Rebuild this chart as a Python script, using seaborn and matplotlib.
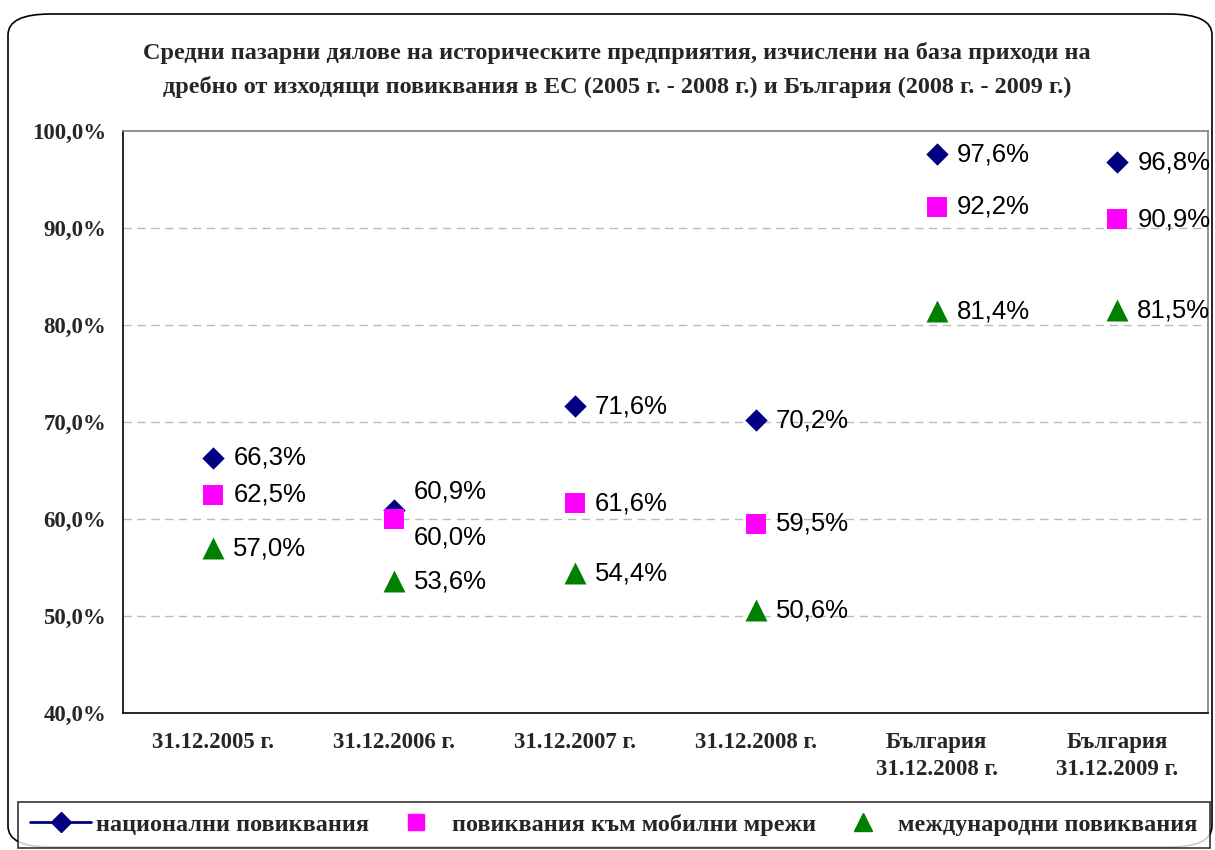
import pandas as pd
import numpy as np
import matplotlib
matplotlib.use('Agg')
import matplotlib.pyplot as plt
import seaborn as sns
from matplotlib.lines import Line2D
from matplotlib.patches import FancyBboxPatch

categories = ['31.12.2005 г.', '31.12.2006 г.', '31.12.2007 г.', '31.12.2008 г.',
              'България\n31.12.2008 г.', 'България\n31.12.2009 г.']
national = [66.3, 60.9, 71.6, 70.2, 97.6, 96.8]
mobile = [62.5, 60.0, 61.6, 59.5, 92.2, 90.9]
international = [57.0, 53.6, 54.4, 50.6, 81.4, 81.5]
series_names = ['национални повиквания', 'повиквания към мобилни мрежи', 'международни повиквания']

title = ('Средни пазарни дялове на историческите предприятия, изчислени на база приходи на\n'
         'дребно от изходящи повиквания в ЕС (2005 г. - 2008 г.) и България (2008 г. - 2009 г.)')

df = pd.DataFrame({
    'cat': categories * 3,
    'value': national + mobile + international,
    'series': [series_names[0]] * 6 + [series_names[1]] * 6 + [series_names[2]] * 6,
})

sns.set_style('white')
serif = ['Liberation Serif', 'DejaVu Serif']
sans = ['Liberation Sans', 'DejaVu Sans']

fig = plt.figure(figsize=(12.15, 8.5), dpi=100)
ax = fig.add_axes([0.1012, 0.1612, 0.8928, 0.6847])

colors = {series_names[0]: '#000080', series_names[1]: '#FF00FF', series_names[2]: '#008000'}
markers = {series_names[0]: 'D', series_names[1]: 's', series_names[2]: '^'}
sizes = {series_names[0]: 130, series_names[1]: 200, series_names[2]: 250}

for s in series_names:
    sub = df[df['series'] == s]
    sns.scatterplot(data=sub, x='cat', y='value', color=colors[s], marker=markers[s],
                    s=sizes[s], linewidth=0, ax=ax, legend=False, zorder=3)

# data labels (the two overlapping 2006 points get pushed up / down)
offsets = {(1, 0): 19, (1, 1): -19}
for j, s in enumerate(series_names):
    vals = df[df['series'] == s]['value'].tolist()
    for i, v in enumerate(vals):
        dy = offsets.get((i, j), 0)
        ax.annotate(f'{v:.1f}%'.replace('.', ','), (i, v), xytext=(20, dy),
                    textcoords='offset pixels',
                    ha='left', va='center', fontsize=18.5, family=sans, color='black')

ax.set_ylim(40, 100)
ax.set_xlim(-0.5, 5.5)
ax.set_yticks(np.arange(40, 101, 10))
ax.set_yticklabels([f'{t:.1f}%'.replace('.', ',') for t in np.arange(40, 101, 10)],
                   family=serif, fontweight='bold', fontsize=16.5)
ax.set_xticks(range(6))
ax.set_xticklabels(categories, family=serif, fontweight='bold', fontsize=16.5, linespacing=1.35)
ax.set_xticks(np.arange(0.5, 5.5, 1), minor=True)
ax.tick_params(axis='x', which='major', length=0, pad=14)
ax.tick_params(axis='x', which='minor', length=6, width=1, color='black', direction='out')
ax.tick_params(axis='y', which='major', length=6, width=1, color='black', direction='out', pad=6)
ax.set_xlabel('')
ax.set_ylabel('')

for yv in [50, 60, 70, 80, 90]:
    ax.axhline(yv, color='#BBBBBB', lw=1, ls=(0, (6, 4)), zorder=1)

ax.spines['left'].set_color('black')
ax.spines['bottom'].set_color('black')
ax.spines['top'].set_color('#808080')
ax.spines['right'].set_color('#808080')
for sp in ax.spines.values():
    sp.set_linewidth(1.2)

fig.text(0.508, 0.918, title, ha='center', va='center', family=serif, fontweight='bold',
         fontsize=17.5, linespacing=1.7)

# rounded outer frame
frame = FancyBboxPatch((8 / 1215, 3 / 850), 1204 / 1215, 833 / 850,
                       boxstyle='round,pad=0,rounding_size=0.035', transform=fig.transFigure,
                       fill=False, edgecolor='black', lw=1.2, mutation_aspect=850 / 1215)
fig.patches.append(frame)

handles = [
    Line2D([0], [0], color='#000080', marker='D', markersize=10, lw=2),
    Line2D([0], [0], color='none', marker='s', markerfacecolor='#FF00FF', markeredgecolor='#FF00FF', markersize=12),
    Line2D([0], [0], color='none', marker='^', markerfacecolor='#008000', markeredgecolor='#008000', markersize=13),
]
leg = fig.legend(handles, series_names, loc='lower left',
                 bbox_to_anchor=(18 / 1215, 2 / 850, 1192 / 1215, 44 / 850), mode='expand',
                 ncol=3, frameon=True, fancybox=False, edgecolor='black',
                 prop={'family': serif, 'weight': 'bold', 'size': 17.5},
                 handlelength=2.5, handletextpad=0.2, columnspacing=1.0, borderpad=0.5,
                 borderaxespad=0)
leg.get_frame().set_linewidth(1.2)

fig.savefig('out.png', dpi=100)
